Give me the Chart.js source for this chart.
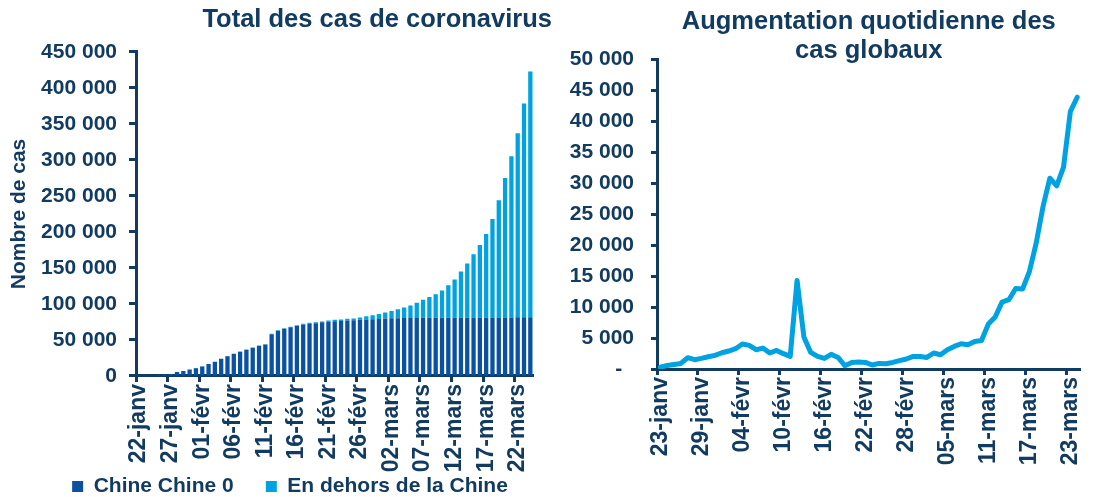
<!DOCTYPE html>
<html><head><meta charset="utf-8">
<script src="https://cdn.jsdelivr.net/npm/chart.js@4.4.1/dist/chart.umd.min.js"></script>
<style>
html,body{margin:0;padding:0;background:#fff;overflow:hidden;width:1107px;height:497px;position:relative;}
#w1{position:absolute;left:0;top:0;width:560px;height:507px;}
#w2{position:absolute;left:560px;top:0;width:547px;height:497px;}
</style></head><body>
<div id="w1"><canvas id="c1"></canvas></div>
<div id="w2"><canvas id="c2"></canvas></div>
<script>
// Categories (22-janv .. 24-mars)
const dates = ['22-janv','23-janv','24-janv','25-janv','26-janv','27-janv','28-janv','29-janv','30-janv','31-janv',
 '01-févr','02-févr','03-févr','04-févr','05-févr','06-févr','07-févr','08-févr','09-févr','10-févr',
 '11-févr','12-févr','13-févr','14-févr','15-févr','16-févr','17-févr','18-févr','19-févr','20-févr',
 '21-févr','22-févr','23-févr','24-févr','25-févr','26-févr','27-févr','28-févr','29-févr',
 '01-mars','02-mars','03-mars','04-mars','05-mars','06-mars','07-mars','08-mars','09-mars','10-mars',
 '11-mars','12-mars','13-mars','14-mars','15-mars','16-mars','17-mars','18-mars','19-mars','20-mars',
 '21-mars','22-mars','23-mars','24-mars'];
const dailyDates = dates.slice(1);

// Total cases – China
const chine = [548,643,920,1406,2075,2877,5509,6900,8900,10880,
 13350,16540,19630,23800,27500,30800,33700,36500,39300,41800,
 43800,58000,63000,65700,67800,69800,71600,72800,73400,74600,
 75500,76000,76500,77000,77300,78000,78500,78800,79300,79800,
 80100,80200,80400,80500,80700,80750,80800,80850,80880,80920,
 80930,80950,80980,81000,81030,81060,81100,81160,81250,81300,
 81430,81500,81590];
// Total cases – outside China
const horsChine = [7,7,20,24,45,53,70,100,100,120,
 150,160,170,200,200,200,300,300,300,400,
 400,500,500,600,700,700,900,1000,1100,1200,
 1500,2000,2000,2400,2700,3200,4500,5700,6700,8500,
 10200,12600,14700,17400,21100,25000,29000,32700,37700,45000,
 53000,64200,75100,88000,101000,116000,136900,162800,193700,223700,
 255600,297000,341400];
// Daily global increase (23-janv .. 24-mars)
const daily = [300,580,740,900,1820,1500,1710,1980,2200,2630,
 2900,3270,4030,3810,3110,3380,2580,3000,2470,2040,
 14300,5160,2680,2030,1710,2360,1870,530,1060,1130,
 1060,640,900,850,1060,1340,1610,2030,2030,1870,
 2580,2300,3110,3650,4080,3920,4450,4610,7250,8390,
 10800,11180,13000,12900,15690,20320,26230,30800,29560,32580,
 41550,43870];

// Tick labels shown
const leftTickLabels = ['22-janv','27-janv','01-févr','06-févr','11-févr','16-févr','21-févr','26-févr','02-mars','07-mars','12-mars','17-mars','22-mars'];
const rightTickLabels = ['23-janv','29-janv','04-févr','10-févr','16-févr','22-févr','28-févr','05-mars','11-mars','17-mars','23-mars'];

const navy = '#123B62';
const darkBlue = '#0A51A1';
const lightBlue = '#00A2E1';
Chart.defaults.font.family = "'Liberation Sans', Arial, Helvetica, sans-serif";
Chart.defaults.font.weight = 'bold';
Chart.defaults.color = navy;

function fmt(v){ return String(v).replace(/\B(?=(\d{3})+(?!\d))/g, ' '); }

function catTickColor(list, cats){
  return function(ctx){
    if (ctx.index === undefined || ctx.index === null) return 'rgba(0,0,0,0)';
    return list.includes(cats[ctx.index]) ? navy : 'rgba(0,0,0,0)';
  };
}

new Chart(document.getElementById('c1'), {
  type: 'bar',
  data: {
    labels: dates,
    datasets: [
      {label: 'Chine Chine 0     ', data: chine, backgroundColor: darkBlue, barPercentage: 0.68, categoryPercentage: 1},
      {label: 'En dehors de la Chine', data: horsChine, backgroundColor: lightBlue, barPercentage: 0.68, categoryPercentage: 1}
    ]
  },
  options: {
    responsive: true, maintainAspectRatio: false, animation: false,
    layout: {padding: {left: 28, right: 8, top: 0, bottom: 0}},
    plugins: {
      title: {display: true, text: 'Total des cas de coronavirus', align: 'end', color: navy,
        font: {size: 25.5, weight: 'bold', lineHeight: 1.12}, padding: {top: 6, bottom: 17.4}},
      legend: {display: true, position: 'bottom',
        labels: {boxWidth: 11, boxHeight: 11, padding: 3, color: navy, font: {size: 21, weight: 'bold'}}},
      tooltip: {enabled: false}
    },
    scales: {
      x: {
        stacked: true, offset: true,
        grid: {display: true, offset: true, drawOnChartArea: false, drawTicks: true, tickLength: 6, tickWidth: 3,
          color: 'rgba(0,0,0,0)', tickColor: catTickColor(leftTickLabels, dates)},
        border: {display: true, color: navy, width: 3},
        ticks: {autoSkip: false, maxRotation: 90, minRotation: 90, padding: 2, color: navy,
          font: {size: 23, weight: 'bold'},
          callback: function(v){ const l = this.getLabelForValue(v); return leftTickLabels.includes(l) ? l : ''; }},
        afterFit: function(s){ s.height = 97; }
      },
      y: {
        stacked: true, min: 0, max: 450000,
        ticks: {stepSize: 50000, padding: 12, color: navy, font: {size: 21, weight: 'bold'}, callback: v => fmt(v)},
        grid: {drawOnChartArea: false, drawTicks: true, tickLength: 7, tickWidth: 3, tickColor: navy, color: 'rgba(0,0,0,0)'},
        border: {display: true, color: navy, width: 3},
        title: {display: true, text: 'Nombre de cas', color: navy, font: {size: 21, weight: 'bold', lineHeight: 1.1}, padding: {top: -20, bottom: 0}},
        afterFit: function(s){ s.width = 108; }
      }
    }
  }
});

new Chart(document.getElementById('c2'), {
  type: 'line',
  data: {
    labels: dailyDates,
    datasets: [{label: 'Augmentation quotidienne des cas globaux', data: daily, borderColor: lightBlue, backgroundColor: lightBlue,
      borderWidth: 5, pointRadius: 0, tension: 0, fill: false, borderJoinStyle: 'round', borderCapStyle: 'round'}]
  },
  options: {
    responsive: true, maintainAspectRatio: false, animation: false,
    layout: {padding: {left: 0, right: 10, top: 0, bottom: 0}},
    plugins: {
      title: {display: true, text: ['Augmentation quotidienne des', 'cas globaux'], fullSize: false, color: navy,
        font: {size: 25.5, weight: 'bold', lineHeight: 1.12}, padding: {top: 8, bottom: -5.9}},
      legend: {display: false},
      tooltip: {enabled: false}
    },
    scales: {
      x: {
        offset: true,
        grid: {display: true, offset: true, drawOnChartArea: false, drawTicks: true, tickLength: 6, tickWidth: 3,
          color: 'rgba(0,0,0,0)', tickColor: catTickColor(rightTickLabels, dailyDates)},
        border: {display: true, color: navy, width: 3},
        ticks: {autoSkip: false, maxRotation: 90, minRotation: 90, padding: 2, color: navy,
          font: {size: 23, weight: 'bold'},
          callback: function(v){ const l = this.getLabelForValue(v); return rightTickLabels.includes(l) ? l : ''; }},
        afterFit: function(s){ s.height = 128; }
      },
      y: {
        min: 0, max: 50000,
        ticks: {stepSize: 5000, padding: 17, color: navy, font: {size: 21, weight: 'bold'},
          callback: v => v === 0 ? '-  ' : fmt(v)},
        grid: {drawOnChartArea: false, drawTicks: true, tickLength: 6, tickWidth: 3, tickColor: navy, color: 'rgba(0,0,0,0)'},
        border: {display: true, color: navy, width: 3},
        afterFit: function(s){ s.width = 97; }
      }
    }
  }
});
</script>
</body></html>
